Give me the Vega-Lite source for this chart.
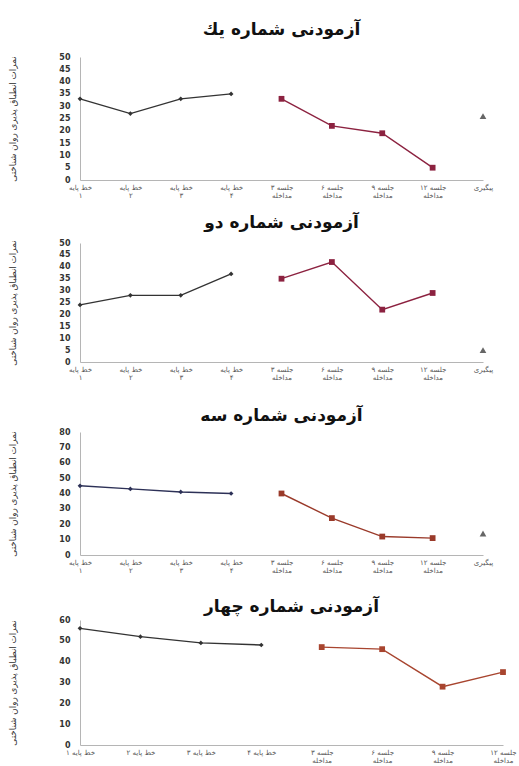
{
  "$schema": "https://vega.github.io/schema/vega-lite/v6.json",
  "background": "white",
  "padding": {"left": 8, "top": 21, "right": 2, "bottom": 2},
  "config": {
    "font": "DejaVu Sans",
    "view": {"stroke": null},
    "title": {"font": "DejaVu Sans", "fontSize": 17, "fontWeight": "bold", "color": "#111", "offset": 8, "anchor": "middle"},
    "axis": {"grid": false, "ticks": false, "domainColor": "#b5b5b5", "labelColor": "#333", "titleColor": "#333", "labelFont": "DejaVu Sans", "titleFont": "DejaVu Sans"},
    "concat": {"spacing": 16}
  },
  "datasets": {
    "scores": [
      {"subject": 1, "session": "خط پایه ۱", "phase": "base", "score": 33},
      {"subject": 1, "session": "خط پایه ۲", "phase": "base", "score": 27},
      {"subject": 1, "session": "خط پایه ۳", "phase": "base", "score": 33},
      {"subject": 1, "session": "خط پایه ۴", "phase": "base", "score": 35},
      {"subject": 1, "session": "جلسه ۳|مداخله", "phase": "treat", "score": 33},
      {"subject": 1, "session": "جلسه ۶|مداخله", "phase": "treat", "score": 22},
      {"subject": 1, "session": "جلسه ۹|مداخله", "phase": "treat", "score": 19},
      {"subject": 1, "session": "جلسه ۱۲|مداخله", "phase": "treat", "score": 5},
      {"subject": 1, "session": "پیگیری", "phase": "follow", "score": 26},
      {"subject": 2, "session": "خط پایه ۱", "phase": "base", "score": 24},
      {"subject": 2, "session": "خط پایه ۲", "phase": "base", "score": 28},
      {"subject": 2, "session": "خط پایه ۳", "phase": "base", "score": 28},
      {"subject": 2, "session": "خط پایه ۴", "phase": "base", "score": 37},
      {"subject": 2, "session": "جلسه ۳|مداخله", "phase": "treat", "score": 35},
      {"subject": 2, "session": "جلسه ۶|مداخله", "phase": "treat", "score": 42},
      {"subject": 2, "session": "جلسه ۹|مداخله", "phase": "treat", "score": 22},
      {"subject": 2, "session": "جلسه ۱۲|مداخله", "phase": "treat", "score": 29},
      {"subject": 2, "session": "پیگیری", "phase": "follow", "score": 5},
      {"subject": 3, "session": "خط پایه ۱", "phase": "base", "score": 45},
      {"subject": 3, "session": "خط پایه ۲", "phase": "base", "score": 43},
      {"subject": 3, "session": "خط پایه ۳", "phase": "base", "score": 41},
      {"subject": 3, "session": "خط پایه ۴", "phase": "base", "score": 40},
      {"subject": 3, "session": "جلسه ۳|مداخله", "phase": "treat", "score": 40},
      {"subject": 3, "session": "جلسه ۶|مداخله", "phase": "treat", "score": 24},
      {"subject": 3, "session": "جلسه ۹|مداخله", "phase": "treat", "score": 12},
      {"subject": 3, "session": "جلسه ۱۲|مداخله", "phase": "treat", "score": 11},
      {"subject": 3, "session": "پیگیری", "phase": "follow", "score": 14},
      {"subject": 4, "session": "خط پایه ۱", "phase": "base", "score": 56},
      {"subject": 4, "session": "خط پایه ۲", "phase": "base", "score": 52},
      {"subject": 4, "session": "خط پایه ۳", "phase": "base", "score": 49},
      {"subject": 4, "session": "خط پایه ۴", "phase": "base", "score": 48},
      {"subject": 4, "session": "جلسه ۳|مداخله", "phase": "treat", "score": 47},
      {"subject": 4, "session": "جلسه ۶|مداخله", "phase": "treat", "score": 46},
      {"subject": 4, "session": "جلسه ۹|مداخله", "phase": "treat", "score": 28},
      {"subject": 4, "session": "جلسه ۱۲|مداخله", "phase": "treat", "score": 35}
    ]
  },
  "data": {"name": "scores"},
  "resolve": {"scale": {"x": "independent", "y": "independent", "color": "independent", "shape": "independent", "size": "independent"}},
  "vconcat": [
    {
      "title": {"text": "آزمودنی شماره یك", "offset": 14},
      "width": 403, "height": 123,
      "transform": [{"filter": "datum.subject == 1"}],
      "encoding": {
        "x": {"field": "session", "type": "ordinal", "title": null,
          "scale": {"type": "point", "padding": 0, "domain": ["خط پایه ۱", "خط پایه ۲", "خط پایه ۳", "خط پایه ۴", "جلسه ۳|مداخله", "جلسه ۶|مداخله", "جلسه ۹|مداخله", "جلسه ۱۲|مداخله", "پیگیری"]},
          "axis": {"labelAngle": 0, "labelFontSize": 7, "labelColor": "#555", "labelExpr": "split(replace(datum.label, 'خط پایه ', 'خط پایه|'), '|')", "labelLineHeight": 8, "labelPadding": 3}},
        "y": {"field": "score", "type": "quantitative", "scale": {"domain": [0, 50]},
          "axis": {"values": [0, 5, 10, 15, 20, 25, 30, 35, 40, 45, 50], "labelFontSize": 8, "labelFontWeight": "bold", "labelPadding": 10, "title": "نمرات انطباق پذیری روان شناختی", "titleFontSize": 8.8, "titleFontWeight": "normal", "titlePadding": 41}}
      },
      "layer": [
        {"transform": [{"filter": "datum.phase != 'follow'"}],
         "mark": {"type": "line", "strokeWidth": 1.4},
         "encoding": {"color": {"field": "phase", "type": "nominal", "legend": null, "scale": {"domain": ["base", "treat", "follow"], "range": ["#333333", "#8c2240", "#666666"]}}}},
        {"mark": {"type": "point", "filled": true, "opacity": 1},
         "encoding": {
           "color": {"field": "phase", "type": "nominal", "legend": null, "scale": {"domain": ["base", "treat", "follow"], "range": ["#222222", "#a01f3c", "#666666"]}},
           "shape": {"field": "phase", "type": "nominal", "legend": null, "scale": {"domain": ["base", "treat", "follow"], "range": ["diamond", "square", "triangle-up"]}},
           "size": {"field": "phase", "type": "nominal", "legend": null, "scale": {"domain": ["base", "treat", "follow"], "range": [22, 45, 28]}}}}
      ]
    },
    {
      "title": {"text": "آزمودنی شماره دو", "offset": 7},
      "width": 403, "height": 119,
      "transform": [{"filter": "datum.subject == 2"}],
      "encoding": {
        "x": {"field": "session", "type": "ordinal", "title": null,
          "scale": {"type": "point", "padding": 0, "domain": ["خط پایه ۱", "خط پایه ۲", "خط پایه ۳", "خط پایه ۴", "جلسه ۳|مداخله", "جلسه ۶|مداخله", "جلسه ۹|مداخله", "جلسه ۱۲|مداخله", "پیگیری"]},
          "axis": {"labelAngle": 0, "labelFontSize": 7, "labelColor": "#555", "labelExpr": "split(replace(datum.label, 'خط پایه ', 'خط پایه|'), '|')", "labelLineHeight": 8, "labelPadding": 3, "minExtent": 29}},
        "y": {"field": "score", "type": "quantitative", "scale": {"domain": [0, 50]},
          "axis": {"values": [0, 5, 10, 15, 20, 25, 30, 35, 40, 45, 50], "labelFontSize": 8, "labelFontWeight": "bold", "labelPadding": 10, "title": "نمرات انطباق پذیری روان شناختی", "titleFontSize": 8.8, "titleFontWeight": "normal", "titlePadding": 41}}
      },
      "layer": [
        {"transform": [{"filter": "datum.phase != 'follow'"}],
         "mark": {"type": "line", "strokeWidth": 1.4},
         "encoding": {"color": {"field": "phase", "type": "nominal", "legend": null, "scale": {"domain": ["base", "treat", "follow"], "range": ["#333333", "#8c2240", "#666666"]}}}},
        {"mark": {"type": "point", "filled": true, "opacity": 1},
         "encoding": {
           "color": {"field": "phase", "type": "nominal", "legend": null, "scale": {"domain": ["base", "treat", "follow"], "range": ["#222222", "#a01f3c", "#666666"]}},
           "shape": {"field": "phase", "type": "nominal", "legend": null, "scale": {"domain": ["base", "treat", "follow"], "range": ["diamond", "square", "triangle-up"]}},
           "size": {"field": "phase", "type": "nominal", "legend": null, "scale": {"domain": ["base", "treat", "follow"], "range": [22, 45, 28]}}}}
      ]
    },
    {
      "title": {"text": "آزمودنی شماره سه", "offset": 3},
      "width": 403, "height": 123,
      "transform": [{"filter": "datum.subject == 3"}],
      "encoding": {
        "x": {"field": "session", "type": "ordinal", "title": null,
          "scale": {"type": "point", "padding": 0, "domain": ["خط پایه ۱", "خط پایه ۲", "خط پایه ۳", "خط پایه ۴", "جلسه ۳|مداخله", "جلسه ۶|مداخله", "جلسه ۹|مداخله", "جلسه ۱۲|مداخله", "پیگیری"]},
          "axis": {"labelAngle": 0, "labelFontSize": 7, "labelColor": "#555", "labelExpr": "split(replace(datum.label, 'خط پایه ', 'خط پایه|'), '|')", "labelLineHeight": 8, "labelPadding": 3, "minExtent": 27}},
        "y": {"field": "score", "type": "quantitative", "scale": {"domain": [0, 80]},
          "axis": {"values": [0, 10, 20, 30, 40, 50, 60, 70, 80], "labelFontSize": 8, "labelFontWeight": "bold", "labelPadding": 10, "title": "نمرات انطباق پذیری روان شناختی", "titleFontSize": 8.8, "titleFontWeight": "normal", "titlePadding": 41}}
      },
      "layer": [
        {"transform": [{"filter": "datum.phase != 'follow'"}],
         "mark": {"type": "line", "strokeWidth": 1.4},
         "encoding": {"color": {"field": "phase", "type": "nominal", "legend": null, "scale": {"domain": ["base", "treat", "follow"], "range": ["#2d3157", "#9a3a2a", "#666666"]}}}},
        {"mark": {"type": "point", "filled": true, "opacity": 1},
         "encoding": {
           "color": {"field": "phase", "type": "nominal", "legend": null, "scale": {"domain": ["base", "treat", "follow"], "range": ["#2d3157", "#a8312c", "#666666"]}},
           "shape": {"field": "phase", "type": "nominal", "legend": null, "scale": {"domain": ["base", "treat", "follow"], "range": ["diamond", "square", "triangle-up"]}},
           "size": {"field": "phase", "type": "nominal", "legend": null, "scale": {"domain": ["base", "treat", "follow"], "range": [22, 45, 28]}}}}
      ]
    },
    {
      "title": {"text": "آزمودنی شماره چهار", "offset": 0},
      "width": 423, "height": 125,
      "transform": [{"filter": "datum.subject == 4"}],
      "encoding": {
        "x": {"field": "session", "type": "ordinal", "title": null,
          "scale": {"type": "point", "padding": 0, "domain": ["خط پایه ۱", "خط پایه ۲", "خط پایه ۳", "خط پایه ۴", "جلسه ۳|مداخله", "جلسه ۶|مداخله", "جلسه ۹|مداخله", "جلسه ۱۲|مداخله"]},
          "axis": {"labelAngle": 0, "labelFontSize": 7, "labelColor": "#555", "labelExpr": "split(datum.label, '|')", "labelLineHeight": 8, "labelPadding": 3}},
        "y": {"field": "score", "type": "quantitative", "scale": {"domain": [0, 60]},
          "axis": {"values": [0, 10, 20, 30, 40, 50, 60], "labelFontSize": 8, "labelFontWeight": "bold", "labelPadding": 10, "title": "نمرات انطباق پذیری روان شناختی", "titleFontSize": 8.8, "titleFontWeight": "normal", "titlePadding": 41}}
      },
      "layer": [
        {"transform": [{"filter": "datum.phase != 'follow'"}],
         "mark": {"type": "line", "strokeWidth": 1.4},
         "encoding": {"color": {"field": "phase", "type": "nominal", "legend": null, "scale": {"domain": ["base", "treat", "follow"], "range": ["#333333", "#a8452f", "#666666"]}}}},
        {"mark": {"type": "point", "filled": true, "opacity": 1},
         "encoding": {
           "color": {"field": "phase", "type": "nominal", "legend": null, "scale": {"domain": ["base", "treat", "follow"], "range": ["#222222", "#9a2f36", "#666666"]}},
           "shape": {"field": "phase", "type": "nominal", "legend": null, "scale": {"domain": ["base", "treat", "follow"], "range": ["diamond", "square", "triangle-up"]}},
           "size": {"field": "phase", "type": "nominal", "legend": null, "scale": {"domain": ["base", "treat", "follow"], "range": [22, 45, 28]}}}}
      ]
    }
  ]
}
